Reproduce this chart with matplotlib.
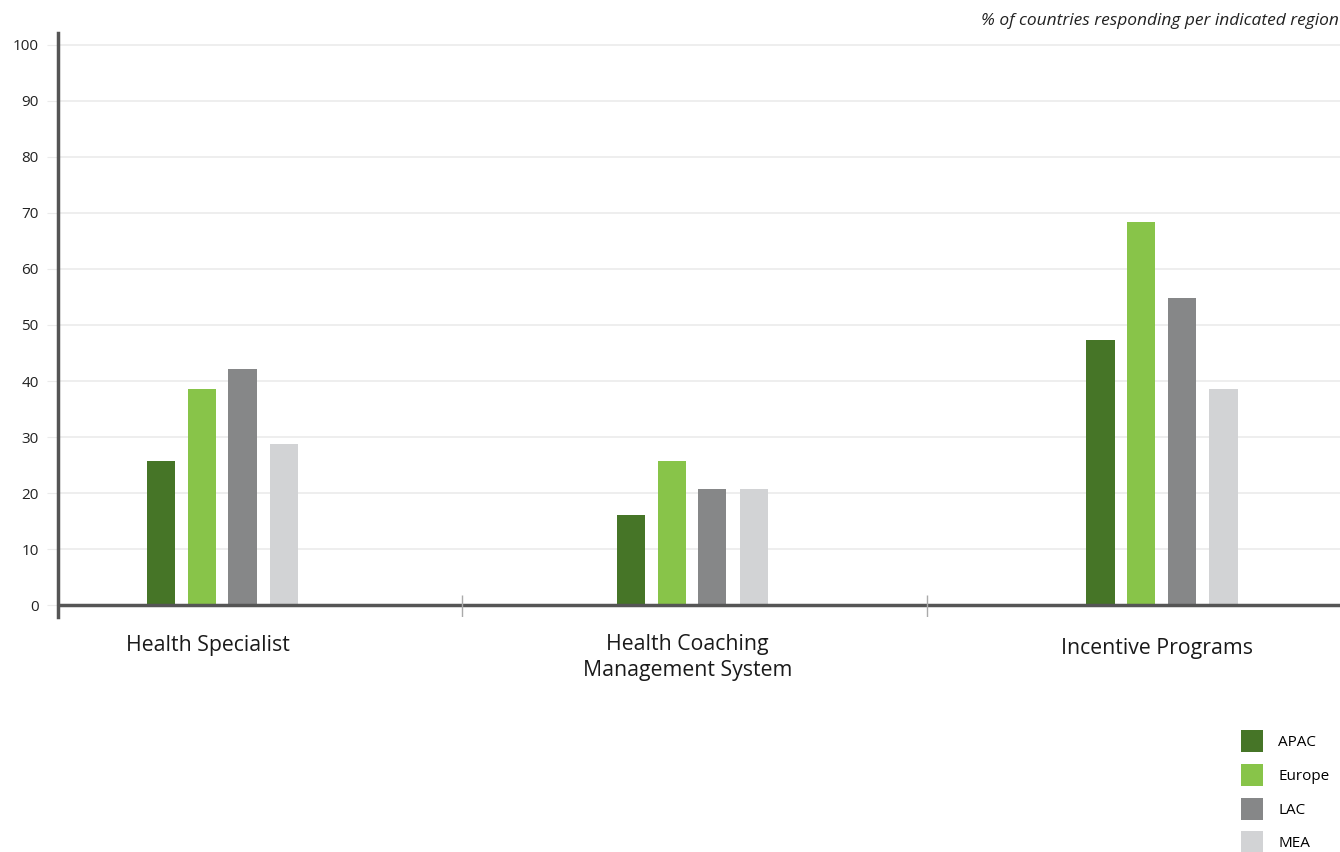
import matplotlib.pyplot as plt
import numpy as np

plt.rcParams['font.family'] = ['Open Sans', 'DejaVu Sans']

categories = ['Health Specialist', 'Health Coaching\nManagement System', 'Incentive Programs']
regions = ['APAC', 'Europe', 'LAC', 'MEA']
apac = [25.8, 16.1, 47.4]
europe = [38.5, 25.8, 68.3]
lac = [42.1, 20.8, 54.8]
mea = [28.7, 20.8, 38.5]
colors = ['#467527', '#88c449', '#868788', '#d2d3d5']

fig = plt.figure(figsize=(13.4, 8.52), dpi=100)
ax = fig.add_axes([58 / 1340, (852 - 617) / 852, 1 - 58 / 1340, (617 - 33) / 852])

x = np.arange(len(categories))
offsets = [-0.13, -0.043, 0.043, 0.132]
width = 0.06
bars = []
for vals, off, c, name in zip([apac, europe, lac, mea], offsets, colors, regions):
    bars.append(ax.bar(x + off, vals, width, color=c, label=name, zorder=3))

ax.set_xlim(-0.35, 2.38)
ax.set_ylim(-2.1, 102.1)
ax.set_yticks(range(0, 101, 10))
ax.yaxis.grid(True, color='#ebebeb', lw=1.2, zorder=0)
ax.tick_params(axis='y', length=8, color='#ebebeb', labelsize=11, labelcolor='#222222', pad=6)
ax.set_xticks([])

for side in ['top', 'right', 'bottom']:
    ax.spines[side].set_visible(False)
ax.spines['left'].set_color('#555555')
ax.spines['left'].set_linewidth(2.5)
ax.axhline(0, color='#555555', lw=2.5, zorder=4)

# separators between the groups
for sep in [0.51, 1.5]:
    ax.vlines(sep, -2.1, 1.8, color='#aaaaaa', lw=1, zorder=5)

label_x = [-0.03, -0.01, -0.01]
label_y = [-5.4, -5.2, -5.9]
for xi, lab, dx, ly in zip(x, categories, label_x, label_y):
    ax.text(xi + dx, ly, lab, ha='center', va='top', fontsize=15.3,
            color='#1a1a1a', linespacing=1.3, clip_on=False)

fig.text(0.999, 0.975, '% of countries responding per indicated region',
         ha='right', va='center', style='italic', fontsize=12.5, color='#222222')

fig.legend(handles=bars, labels=regions, loc='upper left',
           bbox_to_anchor=(1241 / 1340, (852 - 730) / 852), borderaxespad=0,
           borderpad=0, frameon=False, fontsize=11,
           handlelength=1.44, handleheight=1.83, handletextpad=1.0,
           labelspacing=0.78)

fig.savefig('out.png', dpi=100)
